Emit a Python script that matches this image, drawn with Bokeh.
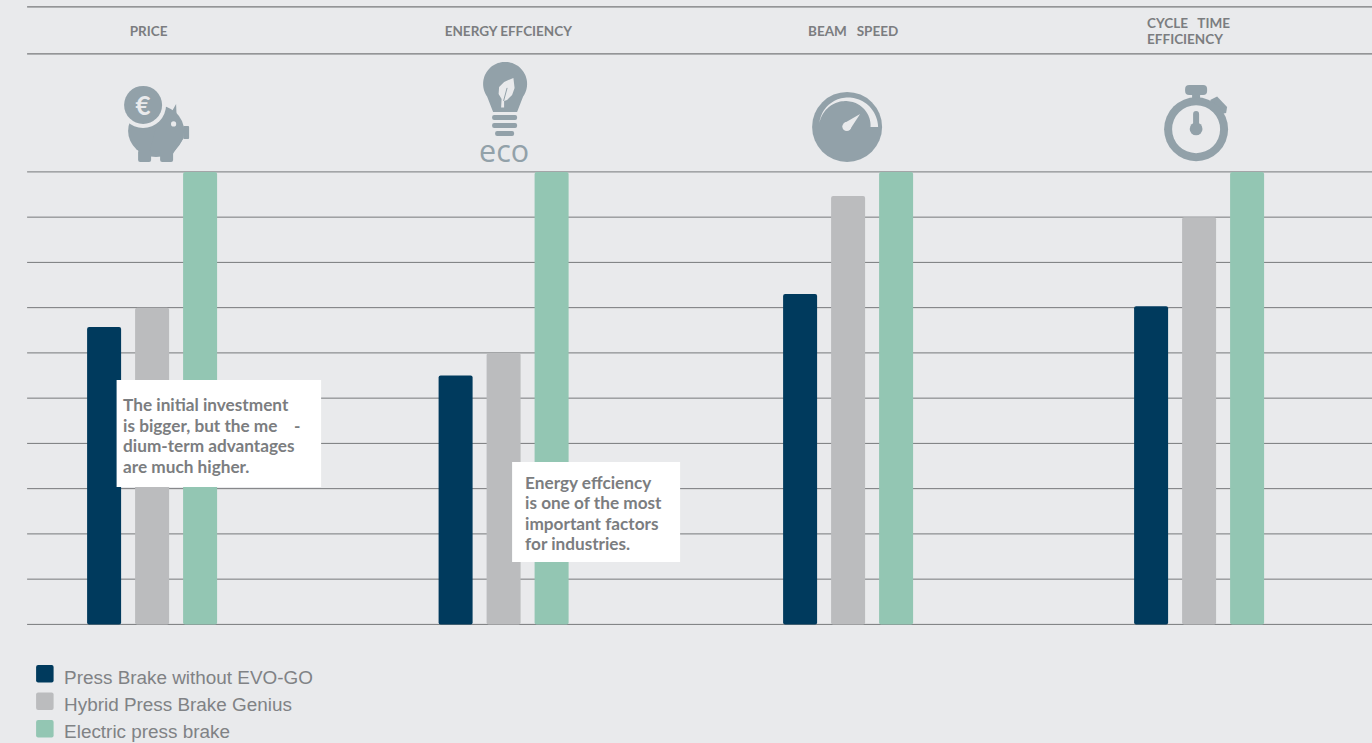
import numpy as np
from bokeh.plotting import figure
from bokeh.models import ColumnDataSource, Range1d
from bokeh.core.properties import value
from bokeh.embed import file_html
from bokeh.resources import INLINE

# ---- data ----
categories = ["PRICE", "ENERGY EFFCIENCY", "BEAM\u00a0\u00a0\u00a0SPEED", "CYCLE TIME EFFICIENCY"]
group_centres = [152, 503.5, 848, 1199]
series_names = ["Press Brake without EVO-GO", "Hybrid Press Brake Genius", "Electric press brake"]
press_brake = [65.7, 55, 73, 70.3]
hybrid = [70, 60, 94.7, 90]
electric = [100, 100, 100, 100]
grid_ticks = [0, 10, 20, 30, 40, 50, 60, 70, 80, 90, 100]
note_1 = ["The initial investment", "is bigger, but the me\u00a0\u00a0\u00a0\u00a0-", "dium-term advantages", "are much higher."]
note_2 = ["Energy effciency", "is one of the most", "important factors", "for industries."]

BG, NAVY, GREY, GREEN = "#e9eaec", "#003a5d", "#bbbcbe", "#93c6b3"
ICON, LINE, TXT = "#92a1a9", "#77797b", "#7b7d80"

W, H = 1372, 743
SHIFT_X, SHIFT_Y = 0.4, 0.6
Y0_PX, PX_PER_UNIT = 624.5, 4.525

p = figure(width=W, height=H, output_backend="svg", toolbar_location=None,
           x_range=Range1d(SHIFT_X, W + SHIFT_X),
           y_range=Range1d(-(H - Y0_PX + SHIFT_Y) / PX_PER_UNIT, (Y0_PX - SHIFT_Y) / PX_PER_UNIT),
           min_border=0, background_fill_color=BG, border_fill_color=BG,
           outline_line_color=None)
p.axis.visible = False
p.grid.visible = False
p.extra_y_ranges["px"] = Range1d(H + SHIFT_Y, SHIFT_Y)
PX = dict(y_range_name="px")

# rules and grid
p.segment(x0=[27] * len(grid_ticks), x1=[W + 2] * len(grid_ticks), y0=grid_ticks, y1=grid_ticks,
          line_color=LINE, line_width=1)
p.segment(x0=[27, 27], x1=[W + 2, W + 2], y0=[7, 54], y1=[7, 54], line_color=LINE, line_width=1.2, **PX)

# bars
for off, vals, col in zip((-48, 0, 48), (press_brake, hybrid, electric), (NAVY, GREY, GREEN)):
    src = ColumnDataSource(dict(x=[c + off for c in group_centres], top=vals))
    p.vbar(x="x", top="top", bottom=0, width=34, source=src, fill_color=col,
           line_color=None, border_radius=2)

# headers
def txt(xs, ys, ts, size, color=TXT, font="Lato", style="bold", align="left"):
    p.text(x=xs, y=ys, text=ts, text_font=value(font), text_font_size=size, text_color=color,
           text_font_style=style, text_baseline="alphabetic", text_align=align, **PX)

txt([148.5, 508.5, 853], [31, 31, 31], categories[:3], "13.5px", align="center")
txt([1147, 1147], [23, 39], ["CYCLE\u00a0\u00a0\u00a0TIME", "EFFICIENCY"], "13.5px")

# ---- icons ----
def circ(x, y, r, col):
    p.circle(x=[x], y=[y], radius=r, fill_color=col, line_color=None, radius_dimension="x", **PX)

def poly(xs, ys, col):
    p.patch(x=xs, y=ys, fill_color=col, line_color=None, **PX)

def rrect(x0, x1, y0, y1, col, r=2):
    p.quad(left=[x0], right=[x1], top=[y0], bottom=[y1], fill_color=col, line_color=None, border_radius=r, **PX)

# piggy bank
p.ellipse(x=[156], y=[131], width=56, height=52, fill_color=ICON, line_color=None, **PX)
poly([160, 165, 172, 176, 176.5, 183, 183, 172, 150],
     [112, 114, 111, 104, 116, 126, 139, 155, 150], ICON)
rrect(183, 189, 126, 139, ICON, 1)
rrect(138, 151, 150, 162, ICON, 2)
rrect(160, 173, 150, 162, ICON, 2)
circ(143, 105, 23, BG)
circ(143, 105, 19, ICON)
circ(173.5, 124, 2.6, BG)
txt([143], [105], ["\u20ac"], "26px", color=BG, align="center")

# eco bulb
a = np.linspace(np.radians(-35), np.radians(215), 60)
bx = [517] + list(505 + 22 * np.cos(a)) + [493]
by = [112] + list(84 - 22 * np.sin(a)) + [112]
poly(bx, by, ICON)
rrect(492, 517, 115, 120, ICON, 2)
rrect(492, 517, 123, 128, ICON, 2)
rrect(495, 514, 131, 136, ICON, 2)
poly([513.3, 514.5, 512, 507, 504, 504, 501, 501.5, 498.5, 499, 504],
     [78, 88, 95, 100, 101, 107.5, 107.5, 99, 94, 87, 82], BG)
p.line(x=[507, 503.5], y=[88, 101], line_color=ICON, line_width=1, **PX)
txt([504], [150], ["eco"], "30.5px", color=ICON, font="Open Sans", style="normal", align="center")

# gauge
circ(847, 127, 35, ICON)
ts = np.linspace(0, 1, 50)
ang = np.radians(172 * ts)
ro = 31 - 3 * ts
ri = ro - 7.6 * (1 - ts)
gx = list(847 + ro * np.cos(ang)) + list((847 + ri * np.cos(ang))[::-1])
gy = list(127 - ro * np.sin(ang)) + list((127 - ri * np.sin(ang))[::-1])
poly(gx, gy, BG)
circ(846.7, 126.7, 4.5, BG)
poly([860, 849.5, 843.5], [114, 130, 123.5], BG)

# stopwatch
rrect(1185, 1207, 85, 95, ICON, 4)
rrect(1192, 1200, 92, 102, ICON, 0)
poly([1210, 1217, 1227, 1226, 1221, 1213], [100, 96.5, 107, 113, 114, 106], ICON)
circ(1196, 129.3, 32, ICON)
circ(1196, 129.3, 24, BG)
rrect(1193, 1199, 111, 129, ICON, 3)
circ(1196, 129, 6.4, ICON)

# notes
p.quad(left=[116.5, 512], right=[321, 680], top=[380, 462], bottom=[487, 562],
       fill_color="white", line_color=None, **PX)
txt([123] * 4, [405, 425.5, 446, 467], note_1, "17.2px")
txt([525] * 4, [483, 503, 523.5, 544], note_2, "17.2px")

# legend
for (y0, col, name, base) in zip((665, 692.6, 720), (NAVY, GREY, GREEN), series_names, (677.5, 704.5, 731.5)):
    rrect(36, 53.5, y0, y0 + 17.5, col, 2)
    txt([64], [base], [name], "18.9px", color="#808285", font="Liberation Sans", style="normal")

html = file_html(p, INLINE)
html = html.replace("<head>", "<head><style>html,body{margin:0;padding:0;background:#e9eaec;overflow:hidden}</style>", 1)
open("out.html", "w").write(html)
